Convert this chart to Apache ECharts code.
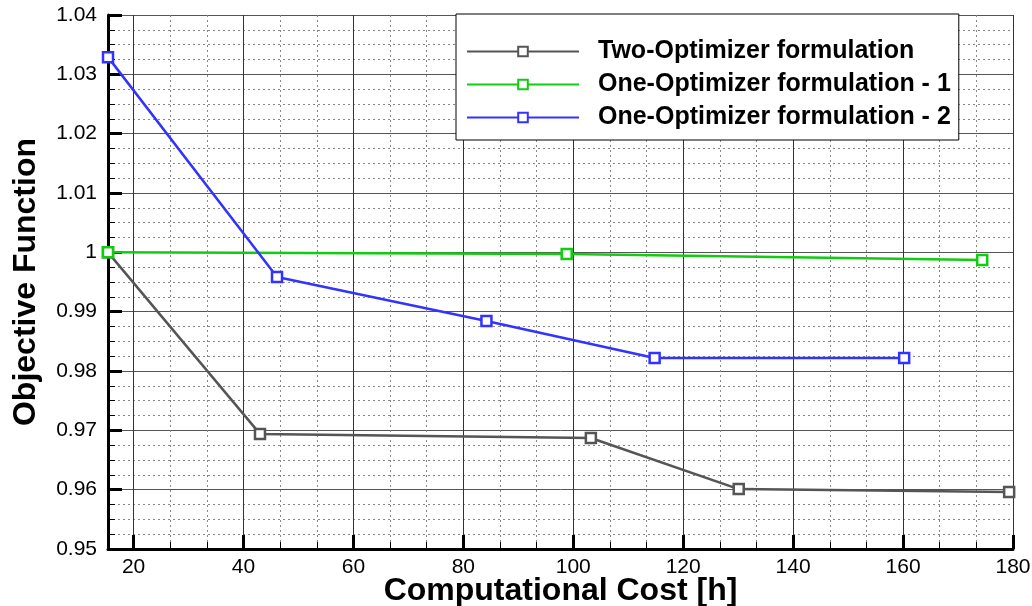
<!DOCTYPE html>
<html><head><meta charset="utf-8">
<script src="https://cdn.jsdelivr.net/npm/echarts@6/dist/echarts.min.js"></script>
<style>html,body{margin:0;padding:0;background:#fff}#c{width:1032px;height:606px}</style>
</head><body><div id="c"></div>
<script>
const seriesNames = ['Two-Optimizer formulation', 'One-Optimizer formulation - 1', 'One-Optimizer formulation - 2'];
const twoOptX = [15.35, 43.0, 103.2, 130.1, 179.3];
const twoOptY = [1.0, 0.9694, 0.9687, 0.9601, 0.9596];
const one1X = [15.35, 98.8, 174.4];
const one1Y = [1.0, 0.9997, 0.9987];
const one2X = [15.35, 46.1, 84.2, 114.8, 160.2];
const one2Y = [1.0329, 0.99585, 0.98843, 0.98219, 0.9822];
const xMin = 15.35, xMax = 180, xTickStart = 20, xInterval = 20;
const yMin = 0.95, yMax = 1.04, yInterval = 0.01;

const colors = ['#555555', '#11cc11', '#3333ff'];
const G = {left: 108, top: 15, right: 19, bottom: 57};
const W = 1032 - G.left - G.right;
const left2 = G.left + (xTickStart - xMin) / (xMax - xMin) * W;

const font = 'Liberation Sans, Arial, Helvetica, sans-serif';
function pairs(xs, ys) { return xs.map((x, i) => [x, ys[i]]); }
const allData = [pairs(twoOptX, twoOptY), pairs(one1X, one1Y), pairs(one2X, one2Y)];

const chart = echarts.init(document.getElementById('c'));
chart.setOption({
  animation: false,
  backgroundColor: '#fff',
  grid: [
    {left: G.left, top: G.top, right: G.right, bottom: G.bottom, containLabel: false, outerBoundsMode: 'none'},
    {left: left2, top: G.top, right: G.right, bottom: G.bottom, containLabel: false, outerBoundsMode: 'none'}
  ],
  legend: {
    orient: 'vertical', left: 456, top: 14,
    padding: [24, 8, 9, 10],
    backgroundColor: '#fff', borderColor: '#000', borderWidth: 1,
    itemWidth: 112, itemHeight: 12, itemGap: 6,
    textStyle: {fontFamily: font, fontWeight: 'bold', fontSize: 25, color: '#000', lineHeight: 27, padding: [0, 0, 0, 14]},
    data: seriesNames
  },
  xAxis: [
    {
      gridIndex: 0, type: 'value', min: xMin, max: xMax,
      name: 'Computational Cost [h]', nameLocation: 'middle', nameGap: 26,
      nameTextStyle: {fontFamily: font, fontWeight: 'bold', fontSize: 32, color: '#000'},
      axisLine: {show: true, onZero: false, lineStyle: {color: '#000', width: 3}},
      axisTick: {show: false}, axisLabel: {show: false}, splitLine: {show: false}
    },
    {
      gridIndex: 1, type: 'value', min: xTickStart, max: xMax, interval: xInterval,
      axisLine: {show: false},
      axisTick: {show: true, inside: true, length: 14, lineStyle: {color: '#000', width: 3}},
      minorTick: {show: true, splitNumber: 3, length: 7, lineStyle: {color: '#000', width: 1}},
      axisLabel: {fontFamily: font, fontSize: 21, color: '#000', margin: 8},
      splitLine: {show: true, lineStyle: {color: '#333', width: 1}},
      minorSplitLine: {show: true, lineStyle: {color: '#888', width: 1, type: [2, 3]}}
    }
  ],
  yAxis: [
    {
      gridIndex: 0, type: 'value', min: yMin, max: yMax, interval: yInterval,
      name: 'Objective Function', nameLocation: 'middle', nameGap: 66,
      nameTextStyle: {fontFamily: font, fontWeight: 'bold', fontSize: 32, color: '#000'},
      axisLine: {show: true, onZero: false, lineStyle: {color: '#000', width: 3}},
      axisTick: {show: true, inside: true, length: 14, lineStyle: {color: '#000', width: 3}},
      minorTick: {show: true, splitNumber: 4, length: 7, lineStyle: {color: '#000', width: 1}},
      axisLabel: {fontFamily: font, fontSize: 21, color: '#000', margin: 11},
      splitLine: {show: true, lineStyle: {color: '#555', width: 1}},
      minorSplitLine: {show: true, lineStyle: {color: '#888', width: 1, type: [2, 3]}}
    },
    {
      gridIndex: 1, type: 'value', min: yMin, max: yMax, interval: yInterval,
      axisLine: {show: false}, axisTick: {show: false}, axisLabel: {show: false}, splitLine: {show: false}
    }
  ],
  series: allData.map((d, i) => ({
    name: seriesNames[i], type: 'line', xAxisIndex: 0, yAxisIndex: 0,
    data: d, symbol: 'rect', symbolSize: 10,
    lineStyle: {color: colors[i], width: 2.5},
    itemStyle: {color: '#fff', borderColor: colors[i], borderWidth: 2.5},
    z: 3 + i
  }))
});
</script></body></html>
